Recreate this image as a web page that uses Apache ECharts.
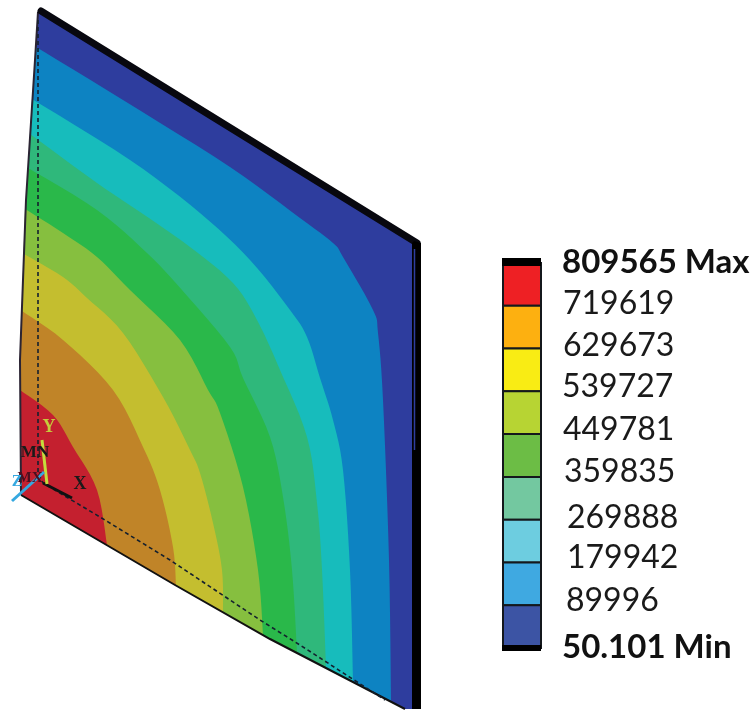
<!DOCTYPE html>
<html><head><meta charset="utf-8">
<style>html,body{margin:0;padding:0;background:#fff}#c{width:755px;height:713px}</style>
<script src="https://cdn.jsdelivr.net/npm/echarts@6/dist/echarts.min.js"></script>
</head><body><div id="c"></div>
<script>
// Legend: contour levels, top to bottom
const levelValues = [809565, 719619, 629673, 539727, 449781, 359835, 269888, 179942, 89996, 50.101];
const levelLabels = ['809565 Max','719619','629673','539727','449781','359835','269888','179942','89996','50.101 Min'];
const legendColors = ['#ee2024','#fdb010','#f9ec14','#b7d433','#6cbd45','#73c8a0','#6dcde0','#3fa9e1','#3c54a4'];
// Plate edges (plot units)
const topEdge = [[41,11],[417,243]];
const bottomEdge = [[21,495],[175,585],[270,639],[405,709]];
const leftEdge = [[38,12],[35,60],[26,200],[20,360],[21,495]];
const rightCorner = [[412,243],[412,709]];
// Band colours, outside to inside
const bandColors = ['#2e3d9e','#0d83c2','#17bcbc','#2fb87b','#2ab84a','#86bf3f','#c4be2f','#c08428','#c4202f'];
// Iso-lines between bands, each from the left edge to the bottom edge
const iso1 = [[36,47],[123,100],[230,167],[300,218],[333,243],[343,257],[373,310],[378,333],[383,400],[389,560],[391,702]];
const iso2 = [[32,99],[130,160],[200,213],[250,260],[290,310],[307,337],[320,378],[333,420],[343,470],[350,570],[353,682]];
const iso3 = [[30,134],[97,183],[143,214],[190,247],[233,283],[257,320],[280,370],[307,437],[317,503],[322,570],[326,668]];
const iso4 = [[28,168],[97,210],[147,253],[182,290],[230,347],[243,378],[270,437],[283,497],[292,570],[297,653]];
const iso5 = [[25,209],[63,233],[97,257],[130,290],[180,340],[208,390],[220,413],[243,487],[258,570],[263,635]];
const iso6 = [[24,254],[63,277],[87,298],[123,333],[163,397],[190,450],[200,473],[213,523],[222,570],[223,612]];
const iso7 = [[22,311],[63,340],[113,390],[143,447],[160,490],[173,547],[176,586]];
const iso8 = [[20,390],[53,415],[73,447],[97,490],[107,545]];
const isoLines = [iso1,iso2,iso3,iso4,iso5,iso6,iso7,iso8];
// Line work
const hiddenEdge = [[38,20],[38,473],[43,483],[100,517],[170,560],[260,620],[300,645],[385,700]];
const triadY = [[42,440],[47,484]];
const triadZ = [[12,501],[44,472]];
const triadX = [[43,483],[72,498]];
const triadText = [['Y',49,427,'#c5cc3c',18],['X',80,484,'#1a1a1a',18],['MN',35,453,'#1a1a1a',17],['MX',30,478,'#4a1020',15],['Z',17,482,'#35a8e0',16]];

const poly = (api, pts, style) => ({type:'polygon', shape:{points:pts.map(p=>api.coord(p))}, style});
const line = (api, pts, style) => ({type:'polyline', shape:{points:pts.map(p=>api.coord(p))}, style:Object.assign({fill:null},style)});
const labelNudge = [[0,-1],[1,-2],[1,-3],[0,-5],[1,-4],[2,-5],[5,-2],[5,-5],[4,-5],[0,-1]];
// Draw the hand-read iso-line vertices as a smooth curve (Catmull-Rom through them)
function curve(pts){
  const out=[];
  for(let i=0;i<pts.length-1;i++){
    const a=pts[Math.max(i-1,0)],b=pts[i],c=pts[i+1],d=pts[Math.min(i+2,pts.length-1)];
    for(let k=0;k<6;k++){
      const t=k/6,t2=t*t,t3=t2*t;
      out.push([0,1].map(j=>0.5*(2*b[j]+(c[j]-a[j])*t+(2*a[j]-5*b[j]+4*c[j]-d[j])*t2+(3*b[j]-a[j]-3*c[j]+d[j])*t3)));
    }
  }
  out.push(pts[pts.length-1]);
  return out;
}

const chart = echarts.init(document.getElementById('c'), null, {renderer:'canvas'});
chart.setOption({
  animation:false, backgroundColor:'#ffffff',
  grid:[{left:0,top:0,width:755,height:713},{left:503,top:263,width:38,height:385}],
  xAxis:[{gridIndex:0,type:'value',min:0,max:755,show:false},{gridIndex:1,type:'value',min:0,max:1,show:false}],
  yAxis:[{gridIndex:0,type:'value',min:0,max:713,inverse:true,show:false},
         {gridIndex:1,type:'value',min:50.101,max:809565,show:false}],
  series:[
    {type:'custom',xAxisIndex:0,yAxisIndex:0,silent:true,clip:false,data:[0],
     renderItem:(p,api)=>{
       const outline=leftEdge.slice(0,1).concat(topEdge,rightCorner,bottomEdge.slice().reverse(),leftEdge.slice().reverse());
       const c=[poly(api,outline,{fill:bandColors[0]})];
       isoLines.forEach((iso,i)=>{
         const end=iso[iso.length-1][0], start=iso[0][1];
         const edge=bottomEdge.filter(q=>q[0]<end).reverse();
         const left=leftEdge.filter(q=>q[1]>start && q[1]<495).reverse();
         c.push(poly(api,curve(iso).concat(edge,left),{fill:bandColors[i+1]}));
       });
       c.push(line(api,leftEdge,{stroke:'#2b2433',lineWidth:2}));
       c.push(line(api,bottomEdge,{stroke:'#111',lineWidth:2}));
       c.push(line(api,hiddenEdge,{stroke:'#14202e',lineWidth:1.6,lineDash:[4,3]}));
       c.push(line(api,topEdge,{stroke:'#08080f',lineWidth:7,lineCap:'round',lineJoin:'round'}));
       c.push(poly(api,[[414,241],[421,243],[421,709],[412,709],[412,243]],{fill:'#000'}));
       c.push(line(api,[[414.5,249],[414.5,450]],{stroke:'#2e3d9e',lineWidth:1.5}));
       c.push(line(api,triadX,{stroke:'#111',lineWidth:3}));
       c.push(line(api,triadY,{stroke:'#c5dc3c',lineWidth:3}));
       c.push(line(api,triadZ,{stroke:'#35a8e0',lineWidth:3}));
       triadText.forEach(t=>{const q=api.coord([t[1],t[2]]);
         c.push({type:'text',style:{text:t[0],x:q[0],y:q[1],fill:t[3],align:'center',verticalAlign:'middle',
           font:'bold '+t[4]+'px "Liberation Serif"'}});});
       return {type:'group',children:c};
     }},
    {type:'custom',xAxisIndex:1,yAxisIndex:1,silent:true,clip:false,data:legendColors.map((c,i)=>i),
     renderItem:(p,api)=>{
       const i=api.value(0);
       const a=api.coord([0,levelValues[i]]), b=api.coord([1,levelValues[i+1]]);
       return {type:'rect',shape:{x:a[0],y:a[1],width:b[0]-a[0],height:b[1]-a[1]},
         style:{fill:legendColors[i],stroke:'#14181c',lineWidth:2}};
     }},
    {type:'custom',xAxisIndex:1,yAxisIndex:1,silent:true,clip:false,data:[0,9],
     renderItem:(p,api)=>{
       const i=api.value(0), a=api.coord([0,levelValues[i]]), b=api.coord([1,levelValues[i]]);
       const top=i===0;
       return {type:'rect',shape:{x:a[0]-1,y:top?a[1]-5:a[1]-3,width:b[0]-a[0]+1,height:top?8:6},style:{fill:'#000'}};
     }},
    {type:'custom',xAxisIndex:1,yAxisIndex:1,silent:true,clip:false,data:levelValues.map((v,i)=>i),
     renderItem:(p,api)=>{
       const i=api.value(0), q=api.coord([1,levelValues[i]]), n=labelNudge[i];
       const bold=i===0||i===9;
       return {type:'text',style:{text:levelLabels[i],x:q[0]+21+n[0],y:q[1]+n[1],fill:bold?'#111':'#1a1a1a',
         align:'left',verticalAlign:'middle',font:(bold?'bold 33px':'32px')+' Lato'}};
     }}
  ]
});
</script></body></html>
